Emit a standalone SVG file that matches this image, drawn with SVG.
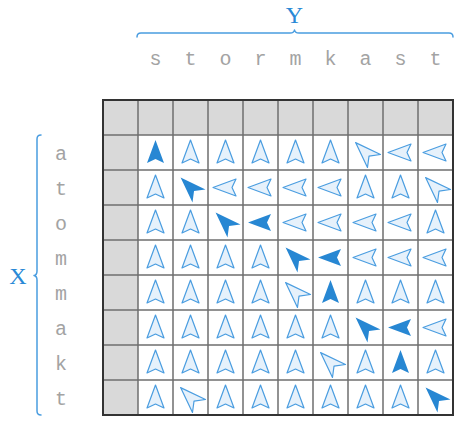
<svg xmlns="http://www.w3.org/2000/svg" xmlns:xlink="http://www.w3.org/1999/xlink" width="466" height="440" viewBox="0 0 466 440">
<style>
.lbl{font-family:"Liberation Mono","DejaVu Sans Mono",monospace;font-size:20px;fill:#a3a3a3;text-anchor:middle}
.axis{font-family:"Liberation Serif","DejaVu Serif",serif;font-size:24px;fill:#2a89d6;text-anchor:middle}
.brace{fill:none;stroke:#4a9de0;stroke-width:1.5;stroke-linecap:round;stroke-linejoin:round}
.hd{fill:#d9d9d9}
.gl{stroke:#6e6e6e;stroke-width:1.5}
.lt{fill:#e6f1fb;stroke:#4a9de0;stroke-width:1.2;stroke-linejoin:round}
.dk{fill:#2787d3}
</style>
<defs>
<path id="u" d="M0,-12.5 L8.5,10.5 L0,6.5 L-8.5,10.5 Z"/>
<path id="l" d="M-12.5,0 L10.5,-8.5 L6.5,0 L10.5,8.5 Z"/>
<path id="d" d="M0,-14 L9.2,12 L0,5 L-9.2,12 Z" transform="rotate(-45)"/>
</defs>
<g id="axis-y">
<text class="axis" x="294.5" y="23">Y</text>
<path class="brace" d="M137,37 Q137,33 141,33 L290,33 Q294,33 294.5,30 Q295,33 299,33 L449,33 Q453,33 453,37"/>
<g id="y-labels">
<text class="lbl" x="155.5" y="65">s</text>
<text class="lbl" x="190.5" y="65">t</text>
<text class="lbl" x="225.5" y="65">o</text>
<text class="lbl" x="260.5" y="65">r</text>
<text class="lbl" x="295.5" y="65">m</text>
<text class="lbl" x="330.5" y="65">k</text>
<text class="lbl" x="365.5" y="65">a</text>
<text class="lbl" x="400.5" y="65">s</text>
<text class="lbl" x="435.5" y="65">t</text>
</g>
</g>
<g id="axis-x">
<text class="axis" x="18" y="284">X</text>
<path class="brace" d="M41,135 Q37,135 37,139 L37,271 Q37,275 34,275.5 Q37,276 37,280 L37,411 Q37,415 41,415"/>
<g id="x-labels">
<text class="lbl" x="61" y="159.5">a</text>
<text class="lbl" x="61" y="194.5">t</text>
<text class="lbl" x="61" y="229.5">o</text>
<text class="lbl" x="61" y="264.5">m</text>
<text class="lbl" x="61" y="299.5">m</text>
<text class="lbl" x="61" y="334.5">a</text>
<text class="lbl" x="61" y="369.5">k</text>
<text class="lbl" x="61" y="404.5">t</text>
</g>
</g>
<g id="grid">
<rect x="103" y="100" width="350" height="315" fill="#ffffff"/>
<rect class="hd" x="103" y="100" width="350" height="35"/>
<rect class="hd" x="103" y="135" width="35" height="280"/>
<g class="gl">
<line x1="138" y1="100" x2="138" y2="415"/>
<line x1="173" y1="100" x2="173" y2="415"/>
<line x1="208" y1="100" x2="208" y2="415"/>
<line x1="243" y1="100" x2="243" y2="415"/>
<line x1="278" y1="100" x2="278" y2="415"/>
<line x1="313" y1="100" x2="313" y2="415"/>
<line x1="348" y1="100" x2="348" y2="415"/>
<line x1="383" y1="100" x2="383" y2="415"/>
<line x1="418" y1="100" x2="418" y2="415"/>
<line x1="103" y1="135" x2="453" y2="135"/>
<line x1="103" y1="170" x2="453" y2="170"/>
<line x1="103" y1="205" x2="453" y2="205"/>
<line x1="103" y1="240" x2="453" y2="240"/>
<line x1="103" y1="275" x2="453" y2="275"/>
<line x1="103" y1="310" x2="453" y2="310"/>
<line x1="103" y1="345" x2="453" y2="345"/>
<line x1="103" y1="380" x2="453" y2="380"/>
</g>
<rect x="103" y="100" width="350" height="315" fill="none" stroke="#333333" stroke-width="2"/>
</g>
<g id="row-1" transform="translate(0,152.5)">
<use xlink:href="#u" class="dk" x="155.5"/>
<use xlink:href="#u" class="lt" x="190.5"/>
<use xlink:href="#u" class="lt" x="225.5"/>
<use xlink:href="#u" class="lt" x="260.5"/>
<use xlink:href="#u" class="lt" x="295.5"/>
<use xlink:href="#u" class="lt" x="330.5"/>
<use xlink:href="#d" class="lt" x="365.5"/>
<use xlink:href="#l" class="lt" x="400.5"/>
<use xlink:href="#l" class="lt" x="435.5"/>
</g>
<g id="row-2" transform="translate(0,187.5)">
<use xlink:href="#u" class="lt" x="155.5"/>
<use xlink:href="#d" class="dk" x="190.5"/>
<use xlink:href="#l" class="lt" x="225.5"/>
<use xlink:href="#l" class="lt" x="260.5"/>
<use xlink:href="#l" class="lt" x="295.5"/>
<use xlink:href="#l" class="lt" x="330.5"/>
<use xlink:href="#u" class="lt" x="365.5"/>
<use xlink:href="#u" class="lt" x="400.5"/>
<use xlink:href="#d" class="lt" x="435.5"/>
</g>
<g id="row-3" transform="translate(0,222.5)">
<use xlink:href="#u" class="lt" x="155.5"/>
<use xlink:href="#u" class="lt" x="190.5"/>
<use xlink:href="#d" class="dk" x="225.5"/>
<use xlink:href="#l" class="dk" x="260.5"/>
<use xlink:href="#l" class="lt" x="295.5"/>
<use xlink:href="#l" class="lt" x="330.5"/>
<use xlink:href="#l" class="lt" x="365.5"/>
<use xlink:href="#l" class="lt" x="400.5"/>
<use xlink:href="#u" class="lt" x="435.5"/>
</g>
<g id="row-4" transform="translate(0,257.5)">
<use xlink:href="#u" class="lt" x="155.5"/>
<use xlink:href="#u" class="lt" x="190.5"/>
<use xlink:href="#u" class="lt" x="225.5"/>
<use xlink:href="#u" class="lt" x="260.5"/>
<use xlink:href="#d" class="dk" x="295.5"/>
<use xlink:href="#l" class="dk" x="330.5"/>
<use xlink:href="#l" class="lt" x="365.5"/>
<use xlink:href="#l" class="lt" x="400.5"/>
<use xlink:href="#l" class="lt" x="435.5"/>
</g>
<g id="row-5" transform="translate(0,292.5)">
<use xlink:href="#u" class="lt" x="155.5"/>
<use xlink:href="#u" class="lt" x="190.5"/>
<use xlink:href="#u" class="lt" x="225.5"/>
<use xlink:href="#u" class="lt" x="260.5"/>
<use xlink:href="#d" class="lt" x="295.5"/>
<use xlink:href="#u" class="dk" x="330.5"/>
<use xlink:href="#u" class="lt" x="365.5"/>
<use xlink:href="#u" class="lt" x="400.5"/>
<use xlink:href="#u" class="lt" x="435.5"/>
</g>
<g id="row-6" transform="translate(0,327.5)">
<use xlink:href="#u" class="lt" x="155.5"/>
<use xlink:href="#u" class="lt" x="190.5"/>
<use xlink:href="#u" class="lt" x="225.5"/>
<use xlink:href="#u" class="lt" x="260.5"/>
<use xlink:href="#u" class="lt" x="295.5"/>
<use xlink:href="#u" class="lt" x="330.5"/>
<use xlink:href="#d" class="dk" x="365.5"/>
<use xlink:href="#l" class="dk" x="400.5"/>
<use xlink:href="#l" class="lt" x="435.5"/>
</g>
<g id="row-7" transform="translate(0,362.5)">
<use xlink:href="#u" class="lt" x="155.5"/>
<use xlink:href="#u" class="lt" x="190.5"/>
<use xlink:href="#u" class="lt" x="225.5"/>
<use xlink:href="#u" class="lt" x="260.5"/>
<use xlink:href="#u" class="lt" x="295.5"/>
<use xlink:href="#d" class="lt" x="330.5"/>
<use xlink:href="#u" class="lt" x="365.5"/>
<use xlink:href="#u" class="dk" x="400.5"/>
<use xlink:href="#u" class="lt" x="435.5"/>
</g>
<g id="row-8" transform="translate(0,397.5)">
<use xlink:href="#u" class="lt" x="155.5"/>
<use xlink:href="#d" class="lt" x="190.5"/>
<use xlink:href="#u" class="lt" x="225.5"/>
<use xlink:href="#u" class="lt" x="260.5"/>
<use xlink:href="#u" class="lt" x="295.5"/>
<use xlink:href="#u" class="lt" x="330.5"/>
<use xlink:href="#u" class="lt" x="365.5"/>
<use xlink:href="#u" class="lt" x="400.5"/>
<use xlink:href="#d" class="dk" x="435.5"/>
</g>
</svg>
